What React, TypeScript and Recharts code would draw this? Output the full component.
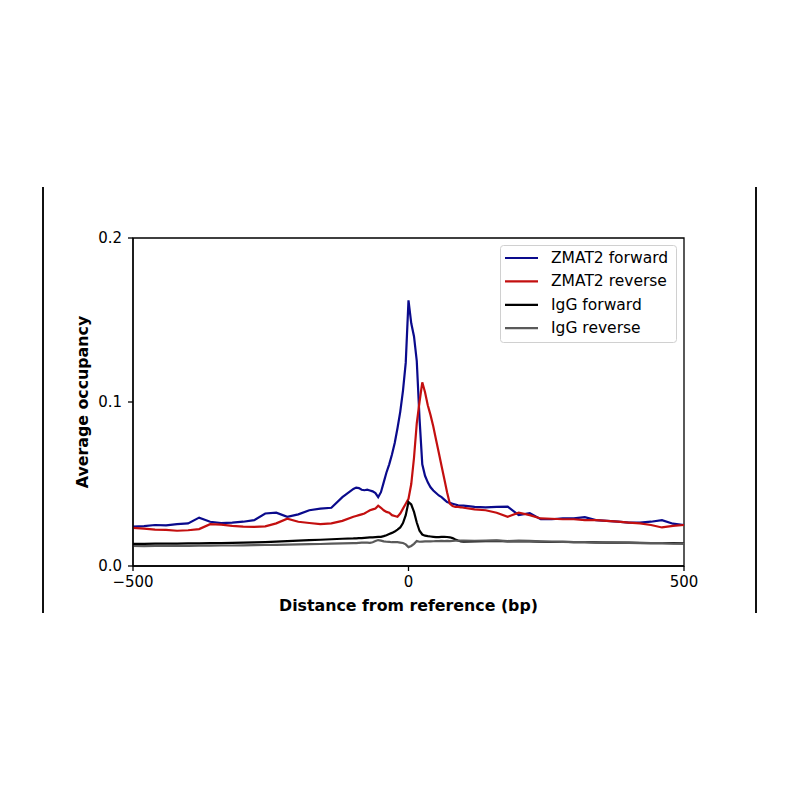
import React from "react";
import { LineChart, Line, XAxis, YAxis, ReferenceArea, Legend } from "recharts";

const positions = [
  -500, -480, -460, -440, -420, -400, -380, -360, -340, -320, -300, -280, -260, -240, -220, -200, -180, -160, -140, -120,
  -100, -95, -90, -85, -80, -75, -70, -65, -60, -55, -50, -45, -40, -35, -30, -25, -20, -15, -10, -5,
  0, 5, 10, 15, 20, 25, 30, 35, 40, 45, 50, 55, 60, 65, 70, 75, 80, 85, 90, 95,
  100, 120, 140, 160, 180, 200, 220, 240, 260, 280, 300, 320, 340, 360, 380, 400, 420, 440, 460, 480, 500,
];

const zmat2Forward = [
  0.024, 0.0243, 0.025, 0.0248, 0.0255, 0.026, 0.0295, 0.027, 0.0262, 0.0265, 0.027, 0.028, 0.032, 0.0325, 0.03, 0.0315, 0.034, 0.035, 0.0355, 0.042,
  0.047, 0.0478, 0.0475, 0.0465, 0.0462, 0.0465, 0.046, 0.0455, 0.0445, 0.042, 0.045, 0.051, 0.057, 0.062, 0.068, 0.075, 0.084, 0.094, 0.107, 0.124,
  0.162, 0.148, 0.14, 0.125, 0.09, 0.062, 0.055, 0.051, 0.048, 0.046, 0.0445, 0.043, 0.042, 0.0405, 0.039, 0.0385, 0.038, 0.0375, 0.037, 0.0368,
  0.0368, 0.036, 0.0358, 0.036, 0.0362, 0.031, 0.0322, 0.0285, 0.0285, 0.029, 0.029, 0.0298, 0.028, 0.0275, 0.027, 0.0265, 0.0265, 0.027, 0.028, 0.0258, 0.025,
];

const zmat2Reverse = [
  0.0232, 0.0228, 0.0222, 0.022, 0.0215, 0.0218, 0.0225, 0.0255, 0.0252, 0.0245, 0.024, 0.0238, 0.0242, 0.026, 0.0288, 0.027, 0.0262, 0.0255, 0.026, 0.0275,
  0.03, 0.0305, 0.031, 0.0315, 0.032, 0.033, 0.034, 0.0345, 0.035, 0.0368, 0.0355, 0.034, 0.033, 0.0325, 0.031, 0.0305, 0.03, 0.032, 0.035, 0.038,
  0.041, 0.05, 0.066, 0.087, 0.1, 0.112, 0.106, 0.098, 0.092, 0.085, 0.077, 0.069, 0.061, 0.053, 0.045, 0.038, 0.0365, 0.036, 0.036, 0.0358,
  0.0355, 0.0345, 0.034, 0.0325, 0.03, 0.0325, 0.031, 0.029, 0.0288, 0.0285, 0.0285, 0.028, 0.028, 0.0275, 0.027, 0.0265, 0.026, 0.025, 0.0235, 0.0245, 0.025,
];

const iggForward = [
  0.0135, 0.0135, 0.0136, 0.0136, 0.0137, 0.0138, 0.0138, 0.0139, 0.014, 0.0141, 0.0142, 0.0144, 0.0146, 0.0149, 0.0152, 0.0155, 0.0158, 0.016, 0.0163, 0.0166,
  0.0168, 0.0169, 0.017, 0.017, 0.0172, 0.0173, 0.0174, 0.0175, 0.0176, 0.0177, 0.0178, 0.0182, 0.0188, 0.0195, 0.0202, 0.021, 0.0222, 0.0235, 0.0262, 0.031,
  0.039, 0.0375, 0.033, 0.0265, 0.0215, 0.0192, 0.0185, 0.0182, 0.018, 0.0178, 0.0176, 0.0176, 0.0177, 0.0178, 0.0177, 0.0175, 0.017, 0.0162, 0.0155, 0.015,
  0.0148, 0.015, 0.0152, 0.0153, 0.015, 0.0152, 0.015, 0.0148, 0.0147, 0.0148, 0.0145, 0.0146, 0.0144, 0.0143, 0.0142, 0.0142, 0.0141, 0.014, 0.014, 0.0139, 0.0138,
];

const iggReverse = [
  0.0122, 0.0121, 0.0122, 0.0123, 0.0122, 0.0123, 0.0124, 0.0124, 0.0125, 0.0125, 0.0126, 0.0127, 0.0128, 0.0129, 0.013, 0.0132, 0.0133, 0.0134, 0.0136, 0.0138,
  0.014, 0.014, 0.0141, 0.0142, 0.0143, 0.0142, 0.0141, 0.0145, 0.0152, 0.0158, 0.0155, 0.015, 0.0148, 0.0147, 0.0145, 0.0146, 0.0145, 0.0143, 0.014, 0.0132,
  0.0115, 0.0122, 0.0135, 0.0152, 0.0148, 0.0149, 0.015, 0.0151, 0.015, 0.0151, 0.0152, 0.0152, 0.0153, 0.0152, 0.0153, 0.0152, 0.0153, 0.0154, 0.0154, 0.0155,
  0.0155, 0.0154, 0.0155, 0.0156, 0.0152, 0.0155, 0.0153, 0.015, 0.0148, 0.0147, 0.0146, 0.0145, 0.0143, 0.0144, 0.0142, 0.0141, 0.014, 0.014, 0.0139, 0.0137, 0.0136,
];

const seriesNames = ["ZMAT2 forward", "ZMAT2 reverse", "IgG forward", "IgG reverse"];
const seriesKeys = ["zf", "zr", "gf", "gr"];
const seriesColors = ["#0a0a8c", "#c30f0f", "#000000", "#5a5a5a"];

const xTicks = [-500, 0, 500];
const yTicks = [0, 0.1, 0.2];

const data = positions.map((x, i) => ({
  x,
  zf: zmat2Forward[i],
  zr: zmat2Reverse[i],
  gf: iggForward[i],
  gr: iggReverse[i],
}));

const FONT = "'DejaVu Sans', sans-serif";

const LegendBox = () => (
  <svg width={178} height={99} style={{ display: "block" }}>
    <rect x={0.5} y={0.5} width={176} height={97} rx={3} ry={3} fill="rgba(255,255,255,0.8)" stroke="#d0d0d0" strokeWidth={1} />
    {seriesNames.map((name, i) => {
      const cy = 13 + i * 23.4;
      return (
        <g key={name}>
          <line x1={5} x2={38} y1={cy} y2={cy} stroke={seriesColors[i]} strokeWidth={2.2} />
          <text x={51} y={cy} dominantBaseline="central" fontFamily={FONT} fontSize={15.5} fill="#000">
            {name}
          </text>
        </g>
      );
    })}
  </svg>
);

const fmtX = (v: number) => (v < 0 ? "\u2212" + Math.abs(v) : String(v));
const fmtY = (v: number) => v.toFixed(1);

export default function App() {
  return (
    <div style={{ position: "absolute", left: 0, top: 0, width: 800, height: 800, background: "#fff" }}>
      <div style={{ position: "absolute", left: 42, top: 187, width: 2, height: 426, background: "#111" }} />
      <div style={{ position: "absolute", left: 755, top: 187, width: 2, height: 426, background: "#111" }} />
      <LineChart
        width={800}
        height={800}
        data={data}
        margin={{ top: 238, right: 116, bottom: 204, left: 73 }}
        style={{ position: "absolute", left: 0, top: 0 }}
      >
        <ReferenceArea x1={-500} x2={500} y1={0} y2={0.2} fill="none" stroke="#000" strokeWidth={1.3} ifOverflow="visible" />
        <XAxis
          dataKey="x"
          type="number"
          domain={[-500, 500]}
          ticks={xTicks}
          tickFormatter={fmtX}
          height={30}
          tickSize={5}
          tickMargin={5}
          axisLine={{ stroke: "#000", strokeWidth: 1.3 }}
          tickLine={{ stroke: "#000", strokeWidth: 1.3 }}
          tick={{ fill: "#000", fontSize: 15, fontFamily: FONT }}
          label={{
            value: "Distance from reference (bp)",
            position: "bottom",
            offset: 4,
            style: { fontFamily: FONT, fontSize: 15.8, fontWeight: "bold", fill: "#000" },
          }}
        />
        <YAxis
          type="number"
          domain={[0, 0.2]}
          ticks={yTicks}
          tickFormatter={fmtY}
          width={60}
          tickSize={5}
          tickMargin={6}
          axisLine={{ stroke: "#000", strokeWidth: 1.3 }}
          tickLine={{ stroke: "#000", strokeWidth: 1.3 }}
          tick={{ fill: "#000", fontSize: 15, fontFamily: FONT }}
          label={{
            value: "Average occupancy",
            angle: -90,
            position: "insideLeft",
            offset: 9,
            style: { textAnchor: "middle", fontFamily: FONT, fontSize: 15.8, fontWeight: "bold", fill: "#000" },
          }}
        />
        {seriesKeys.map((k, i) => (
          <Line
            key={k}
            dataKey={k}
            name={seriesNames[i]}
            type="linear"
            stroke={seriesColors[i]}
            strokeWidth={2.2}
            dot={false}
            activeDot={false}
            isAnimationActive={false}
          />
        ))}
        <Legend
          layout="horizontal"
          verticalAlign="middle"
          align="center"
          content={<LegendBox />}
          wrapperStyle={{ left: 500, top: 245, width: 178, height: 99 }}
        />
      </LineChart>
    </div>
  );
}
